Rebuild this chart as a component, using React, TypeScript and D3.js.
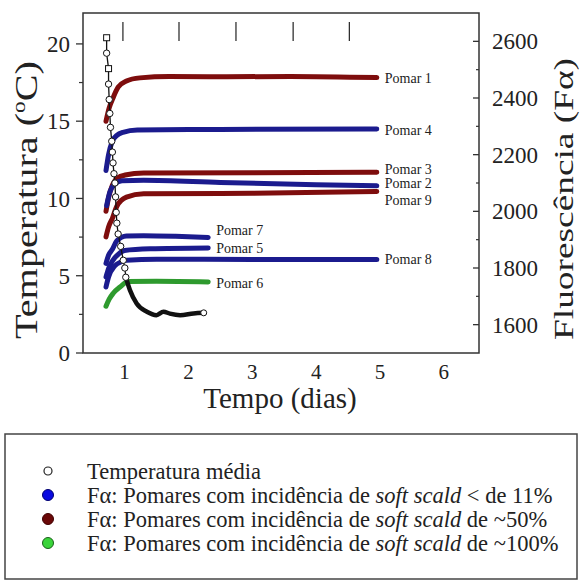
import React from "react";
import * as d3 from "d3";

// ---------- data ----------
const xTicks = [1, 2, 3, 4, 5, 6];
const tempTicks = [0, 5, 10, 15, 20];
const tempMinorTicks = [2.5, 7.5, 12.5, 17.5];
const faTicks = [1600, 1800, 2000, 2200, 2400, 2600];
const faMinorTicks = [1700, 1900, 2100, 2300, 2500];
const topMarks = [0.975, 1.853, 2.745, 3.64, 4.52];

// Temperatura média (°C): steep part with open markers, then tail
const tempSteep: [number, number][] = [
  [0.72, 20.4], [0.72, 19.4], [0.75, 18.4], [0.75, 17.4], [0.76, 16.4],
  [0.77, 15.5], [0.78, 14.6], [0.8, 13.7], [0.81, 13.0], [0.82, 12.3],
  [0.835, 11.6], [0.85, 11.0], [0.86, 10.1], [0.87, 9.1], [0.88, 8.4],
  [0.9, 7.7], [0.94, 6.9], [0.98, 6.0], [1.005, 5.5], [1.02, 4.9],
];
const tempTail: [number, number][] = [
  [1.02, 4.9], [1.085, 4.07], [1.19, 3.2], [1.35, 2.67], [1.5, 2.45],
  [1.61, 2.67], [1.71, 2.55], [1.87, 2.45], [2.08, 2.56], [2.24, 2.6],
];

// Fα series
const pomarNames = ["Pomar 1", "Pomar 4", "Pomar 3", "Pomar 2", "Pomar 9", "Pomar 7", "Pomar 5", "Pomar 8", "Pomar 6"];
const pomarGroups = ["50", "11", "50", "11", "50", "11", "11", "11", "100"];
const pomar1: [number, number][] = [[0.71, 2318], [0.76, 2365], [0.82, 2400], [0.9, 2438], [1.03, 2460], [1.24, 2471], [1.7, 2476], [2.6, 2475], [3.6, 2476], [4.95, 2472]];
const pomar4: [number, number][] = [[0.71, 2144], [0.75, 2200], [0.81, 2248], [0.88, 2268], [0.975, 2279], [1.2, 2287], [2.5, 2289], [4.95, 2291]];
const pomar3: [number, number][] = [[0.71, 2000], [0.75, 2048], [0.81, 2092], [0.89, 2118], [1.01, 2128], [1.3, 2135], [3.0, 2136], [4.95, 2138]];
const pomar2: [number, number][] = [[0.72, 2020], [0.77, 2068], [0.85, 2097], [0.96, 2108], [1.3, 2110], [2.5, 2102], [4.0, 2094], [4.95, 2090]];
const pomar9: [number, number][] = [[0.71, 1910], [0.75, 1945], [0.81, 1975], [0.88, 2018], [1.03, 2050], [1.3, 2062], [3.0, 2064], [4.95, 2070]];
const pomar7: [number, number][] = [[0.71, 1816], [0.75, 1845], [0.81, 1866], [0.88, 1896], [1.03, 1913], [1.3, 1914], [1.8, 1912], [2.31, 1908]];
const pomar5: [number, number][] = [[0.71, 1768], [0.75, 1798], [0.82, 1828], [0.91, 1850], [1.0, 1862], [1.4, 1868], [2.31, 1871]];
const pomar8: [number, number][] = [[0.71, 1733], [0.75, 1768], [0.85, 1808], [0.95, 1822], [1.03, 1827], [1.5, 1831], [3.0, 1830], [4.95, 1830]];
const pomar6: [number, number][] = [[0.71, 1665], [0.76, 1690], [0.82, 1710], [0.93, 1733], [1.06, 1752], [1.5, 1753], [2.31, 1751]];
const pomarData = [pomar1, pomar4, pomar3, pomar2, pomar9, pomar7, pomar5, pomar8, pomar6];

const legendFirst = "Temperatura média";
const legendPrefix = "Fα: Pomares com incidência de ";
const legendItalic = "soft scald";
const legendSuffixes = [" < de 11%", " de ~50%", " de ~100%"];
const legendGroups = ["11", "50", "100"];

// ---------- styles ----------
const W = 581;
const H = 582;
const plot = { left: 83, right: 479, top: 13, bottom: 353 };
const serif = "'Liberation Serif', 'Times New Roman', serif";
const lineColor: Record<string, string> = { "11": "#1b1b8e", "50": "#7e0d0d", "100": "#2e9a2e" };
const legendFill: Record<string, string> = { "11": "#0a0ae0", "50": "#6a0808", "100": "#3ad43a" };
const legendStroke: Record<string, string> = { "11": "#000070", "50": "#400000", "100": "#1a601a" };
const labelDy = [0, 1.5, -3, -3, 9, -7, 0, 0, 1];

export default function App() {
  const x = d3.scaleLinear().domain([0.35, 6.55]).range([plot.left, plot.right]);
  const yT = d3.scaleLinear().domain([0, 22]).range([plot.bottom, plot.top]);
  const yF = d3.scaleLinear().domain([1500, 2700]).range([plot.bottom, plot.top]);

  const faLine = d3
    .line<[number, number]>()
    .x((d) => x(d[0]))
    .y((d) => yF(d[1]))
    .curve(d3.curveMonotoneX);
  const tLine = d3
    .line<[number, number]>()
    .x((d) => x(d[0]))
    .y((d) => yT(d[1]));
  const tTailLine = d3
    .line<[number, number]>()
    .x((d) => x(d[0]))
    .y((d) => yT(d[1]))
    .curve(d3.curveMonotoneX);

  const legendRows = [471, 495, 519, 543];

  return (
    <svg
      width={W}
      height={H}
      viewBox={`0 0 ${W} ${H}`}
      style={{ position: "absolute", left: 0, top: 0, background: "#fff" }}
      fontFamily={serif}
    >
      <rect x={0} y={0} width={W} height={H} fill="#fff" />

      {/* top marks */}
      {topMarks.map((m, i) => (
        <line key={"tm" + i} x1={x(m)} x2={x(m)} y1={22} y2={41} stroke="#222" strokeWidth={1.2} />
      ))}

      {/* Fα series */}
      {pomarData.map((d, i) => (
        <path
          key={"p" + i}
          d={faLine(d) || ""}
          fill="none"
          stroke={lineColor[pomarGroups[i]]}
          strokeWidth={5}
          strokeLinecap="round"
          strokeLinejoin="round"
        />
      ))}
      {pomarData.map((d, i) => {
        const last = d[d.length - 1];
        return (
          <text
            key={"pl" + i}
            x={x(last[0]) + 8}
            y={yF(last[1]) + labelDy[i]}
            dy="0.35em"
            fontSize={14}
            fill="#222"
          >
            {pomarNames[i]}
          </text>
        );
      })}

      {/* Temperature */}
      <path d={tTailLine(tempTail) || ""} fill="none" stroke="#111" strokeWidth={4.5} strokeLinecap="round" />
      <path d={tLine(tempSteep) || ""} fill="none" stroke="#111" strokeWidth={1.3} />
      {tempSteep.map((d, i) =>
        i % 2 === 0 && i < 4 ? (
          <rect
            key={"ts" + i}
            x={x(d[0]) - 3}
            y={yT(d[1]) - 3}
            width={6}
            height={6}
            fill="#fff"
            stroke="#111"
            strokeWidth={1}
          />
        ) : (
          <circle key={"tc" + i} cx={x(d[0])} cy={yT(d[1])} r={3.2} fill="#fff" stroke="#111" strokeWidth={1} />
        )
      )}
      <circle
        cx={x(tempTail[tempTail.length - 1][0])}
        cy={yT(tempTail[tempTail.length - 1][1])}
        r={3}
        fill="#fff"
        stroke="#111"
        strokeWidth={1}
      />

      {/* frame */}
      <rect
        x={plot.left}
        y={plot.top}
        width={plot.right - plot.left}
        height={plot.bottom - plot.top}
        fill="none"
        stroke="#333"
        strokeWidth={1.5}
      />

      {/* left axis */}
      {tempTicks.map((t) => (
        <g key={"lt" + t}>
          <line x1={plot.left - 7} x2={plot.left} y1={yT(t)} y2={yT(t)} stroke="#333" strokeWidth={1.3} />
          <text x={70} y={yT(t)} dy="0.35em" textAnchor="end" fontSize={23} fill="#222">
            {t}
          </text>
        </g>
      ))}
      {tempMinorTicks.map((t) => (
        <line key={"lm" + t} x1={plot.left - 4} x2={plot.left} y1={yT(t)} y2={yT(t)} stroke="#333" strokeWidth={1.2} />
      ))}

      {/* right axis */}
      {faTicks.map((t) => (
        <g key={"rt" + t}>
          <line x1={plot.right - 6} x2={plot.right} y1={yF(t)} y2={yF(t)} stroke="#333" strokeWidth={1.3} />
          <text x={492} y={yF(t)} dy="0.35em" textAnchor="start" fontSize={23} fill="#222">
            {t}
          </text>
        </g>
      ))}
      {faMinorTicks.map((t) => (
        <line key={"rm" + t} x1={plot.right - 3} x2={plot.right} y1={yF(t)} y2={yF(t)} stroke="#333" strokeWidth={1.2} />
      ))}

      {/* bottom axis labels */}
      {xTicks.map((t) => (
        <text key={"xt" + t} x={x(t)} y={379} textAnchor="middle" fontSize={21} fill="#222">
          {t}
        </text>
      ))}
      <text x={280} y={408} textAnchor="middle" fontSize={29} fill="#222">
        Tempo (dias)
      </text>

      {/* axis titles */}
      <text
        transform="translate(37,200) rotate(-90)"
        textAnchor="middle"
        fontSize={31}
        fill="#222"
        textLength={278}
        lengthAdjust="spacingAndGlyphs"
      >
        Temperatura (<tspan fontSize={18} dy={-12}>o</tspan>
        <tspan dy={12}>C)</tspan>
      </text>
      <text
        transform="translate(573,199) rotate(-90)"
        textAnchor="middle"
        fontSize={28}
        fill="#222"
        textLength={282}
        lengthAdjust="spacingAndGlyphs"
      >
        Fluorescência (Fα)
      </text>

      {/* legend */}
      <rect x={5} y={434} width={572} height={145} fill="#fff" stroke="#444" strokeWidth={1.5} />
      <circle cx={48} cy={legendRows[0]} r={4} fill="#fff" stroke="#222" strokeWidth={1.2} />
      <text x={87} y={legendRows[0]} dy="0.35em" fontSize={22.5} fill="#222">
        {legendFirst}
      </text>
      {legendSuffixes.map((s, i) => (
        <g key={"lg" + i}>
          <circle
            cx={48}
            cy={legendRows[i + 1]}
            r={5.5}
            fill={legendFill[legendGroups[i]]}
            stroke={legendStroke[legendGroups[i]]}
            strokeWidth={1}
          />
          <text x={87} y={legendRows[i + 1]} dy="0.35em" fontSize={22.5} fill="#222">
            {legendPrefix}
            <tspan fontStyle="italic">{legendItalic}</tspan>
            {s}
          </text>
        </g>
      ))}
    </svg>
  );
}
